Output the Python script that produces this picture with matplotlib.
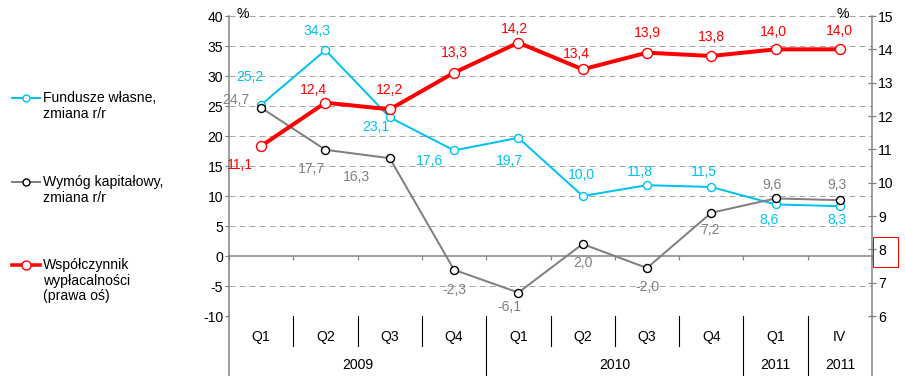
import matplotlib
matplotlib.use('Agg')
import matplotlib.pyplot as plt
from matplotlib.lines import Line2D
from matplotlib.patches import Rectangle
import matplotlib.transforms as mtransforms

plt.rcParams['font.family'] = ['Liberation Sans', 'DejaVu Sans']
plt.rcParams['axes.unicode_minus'] = False

quarters = ['Q1', 'Q2', 'Q3', 'Q4', 'Q1', 'Q2', 'Q3', 'Q4', 'Q1', 'IV']
years = ['2009', '2010', '2011', '2011']
year_spans = [(0, 3), (4, 7), (8, 8), (9, 9)]

fundusze = [25.2, 34.3, 23.1, 17.6, 19.7, 10.0, 11.8, 11.5, 8.6, 8.3]
wymog = [24.7, 17.7, 16.3, -2.3, -6.1, 2.0, -2.0, 7.2, 9.6, 9.3]
wspolczynnik = [11.1, 12.4, 12.2, 13.3, 14.2, 13.4, 13.9, 13.8, 14.0, 14.0]

# label offsets in pixels (dx, dy), dy positive = up
off_fund = [(-11, 28), (-8, 19), (-14, -10), (-25, -11), (-9, -23),
            (-1, 21), (-7, 13), (-7, 15), (-6, -16), (-3, -14)]
off_wym = [(-25, 8), (-14, -19), (-33, -19), (0, -20), (-9, -14),
           (0, -19), (0, -19), (-1, -17), (-3, 13), (-3, 15)]
off_wsp = [(-21, -19), (-12, 13), (0, 19), (0, 20), (-4, 14),
           (-6, 15), (0, 20), (0, 19), (-2, 17), (0, 18)]

CYAN = '#00c3f0'
GRAY = '#808080'
RED = '#ff0000'
FS = 14

W, H = 905, 376
fig = plt.figure(figsize=(W / 72, H / 72), dpi=72)
ax = fig.add_axes([229 / W, 60 / H, (872 - 229) / W, 300 / H])
ax2 = ax.twinx()

x = list(range(len(quarters)))

ax.set_xlim(-0.5, len(quarters) - 0.5)
ax.set_ylim(-10, 40)
ax.set_yticks(range(-10, 41, 5))
for v in range(-10, 41, 5):
    if v != 0:
        ax.axhline(v, color='#a6a6a6', lw=1, ls=(0, (6, 4)), zorder=0)

ax2.set_ylim(6, 15)
ax2.set_yticks(range(6, 16))

for a in (ax, ax2):
    a.spines['top'].set_visible(False)
    for s in ('left', 'right', 'bottom'):
        a.spines[s].set_color(GRAY)
        a.spines[s].set_linewidth(1.5)
    a.tick_params(labelsize=FS, colors='black')
ax.spines['right'].set_visible(False)
ax2.spines['left'].set_visible(False)
ax2.spines['bottom'].set_visible(False)
ax.spines['bottom'].set_position(('data', 0))
ax.set_xticks([i - 0.5 for i in range(len(quarters) + 1)])
ax.set_xticklabels([])
ax.tick_params(axis='x', direction='out', length=4, width=1.2, color=GRAY)
ax.tick_params(axis='y', direction='out', length=4, width=1.2, color=GRAY, pad=2)
ax2.tick_params(axis='y', direction='inout', length=8, width=1.2, color=GRAY, pad=2)

# series
ax.plot(x, fundusze, color=CYAN, lw=2, marker='o', ms=8, mfc='white',
        mec=CYAN, mew=1.4, zorder=3)
ax.plot(x, wymog, color=GRAY, lw=2, marker='o', ms=8, mfc='white',
        mec='black', mew=1.4, zorder=4)
ax2.plot(x, wspolczynnik, color=RED, lw=4, marker='o', ms=10, mfc='white',
         mec=RED, mew=1.4, zorder=5)


def fmt(v):
    return f'{v:.1f}'.replace('.', ',')


for i, v in enumerate(fundusze):
    ax.annotate(fmt(v), (i, v), xytext=off_fund[i], textcoords='offset points',
                ha='center', va='center', color=CYAN, fontsize=FS)
for i, v in enumerate(wymog):
    ax.annotate(fmt(v), (i, v), xytext=off_wym[i], textcoords='offset points',
                ha='center', va='center', color=GRAY, fontsize=FS)
for i, v in enumerate(wspolczynnik):
    ax2.annotate(fmt(v), (i, v), xytext=off_wsp[i], textcoords='offset points',
                 ha='center', va='center', color=RED, fontsize=FS)

# category axis below the plot
tr = mtransforms.blended_transform_factory(ax.transData, ax.transAxes)
for i, q in enumerate(quarters):
    ax.text(i, -0.07, q, transform=tr, ha='center', va='center', fontsize=FS)
year_edges = {-0.5, len(quarters) - 0.5}
for (a, b), y in zip(year_spans, years):
    ax.text((a + b) / 2, -0.163, y, transform=tr, ha='center', va='center',
            fontsize=FS)
    year_edges.add(a - 0.5)
    year_edges.add(b + 0.5)
for i in range(len(quarters) + 1):
    xe = i - 0.5
    low = -0.2 if xe in year_edges else -0.1
    col = GRAY if xe in (-0.5, len(quarters) - 0.5) else 'black'
    lw = 1.5 if col == GRAY else 1.1
    ax.add_line(Line2D([xe, xe], [low, 0], transform=tr, color=col, lw=lw,
                       clip_on=False))

# percent signs above the axes
fig.text(243 / W, 1 - 14 / H, '%', ha='center', va='center', fontsize=FS)
fig.text(843 / W, 1 - 14 / H, '%', ha='center', va='center', fontsize=FS)

# highlight box around the 8 on the right axis
fig.patches.append(Rectangle((873 / W, 1 - 267 / H), 25 / W, 30 / H,
                             transform=fig.transFigure, fill=False,
                             edgecolor=RED, lw=1))

# legend
legend_items = [
    (98, CYAN, CYAN, 2, 7, ['Fundusze własne,', 'zmiana r/r']),
    (182, GRAY, 'black', 2, 7, ['Wymóg kapitałowy,', 'zmiana r/r']),
    (265, RED, RED, 3.5, 9, ['Współczynnik', 'wypłacalności', '(prawa oś)']),
]
for yy, lc, mc, lw, ms, lines in legend_items:
    fy = 1 - yy / H
    fig.add_artist(Line2D([12 / W, 40 / W], [fy, fy], transform=fig.transFigure,
                          color=lc, lw=lw))
    fig.add_artist(Line2D([26 / W], [fy], transform=fig.transFigure, marker='o',
                          ms=ms, mfc='white', mec=mc, mew=1.4, lw=0))
    for k, t in enumerate(lines):
        fig.text(43 / W, 1 - (yy + 15.5 * k) / H, t, ha='left', va='center',
                 fontsize=FS)

fig.savefig('out.png', dpi=72)
